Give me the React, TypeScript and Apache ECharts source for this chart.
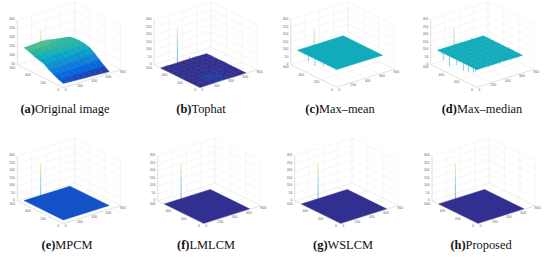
import React, { useEffect, useRef } from "react";
import * as echarts from "echarts";

// ---- data -----------------------------------------------------------------
const panelLetters = ["(a)", "(b)", "(c)", "(d)", "(e)", "(f)", "(g)", "(h)"];
const panelNames = ["Original image", "Tophat", "Max\u2013mean", "Max\u2013median", "MPCM", "LMLCM", "WSLCM", "Proposed"];
const xTicks = [0, 200, 400, 600, 800];
const yTicks = [0, 200, 400, 600];
const zTicksFull = [0, 50, 100, 150, 200, 250, 300];
const zTicksOriginal = [50, 100, 150, 200, 250, 300];

const fineX = [0, 80, 160, 240, 320, 400, 480, 560, 640];
const fineY = [0, 64, 128, 192, 256, 320, 384, 448, 512];
const flatX = [0, 640];
const flatY = [0, 512];

const surfaceOriginal = [
  [74, 72, 70, 68, 66, 65, 63, 61, 59],
  [84, 82, 81, 79, 78, 78, 78, 78, 78],
  [97, 96, 95, 95, 94, 95, 96, 98, 99],
  [112, 111, 110, 110, 111, 113, 116, 119, 122],
  [130, 128, 126, 126, 127, 130, 134, 138, 140],
  [137, 138, 139, 140, 141, 143, 145, 147, 147],
  [146, 147, 149, 151, 152, 152, 152, 151, 150],
  [157, 158, 160, 161, 160, 157, 154, 151, 148],
  [164, 166, 168, 170, 168, 160, 155, 150, 144],
];
const surfaceTophat = [
  [2, 2, 3, 3, 4, 3, 2, 2, 3],
  [2, 3, 12, 18, 15, 4, 3, 3, 2],
  [2, 3, 6, 12, 9, 3, 4, 2, 3],
  [2, 2, 3, 4, 3, 3, 5, 4, 2],
  [2, 3, 2, 3, 3, 4, 3, 3, 4],
  [3, 2, 3, 2, 3, 4, 2, 3, 3],
  [2, 3, 2, 3, 4, 2, 3, 5, 2],
  [2, 2, 3, 3, 2, 3, 4, 3, 3],
  [2, 3, 2, 2, 3, 2, 3, 2, 2],
];
const surfaceMaxMean = [[118, 118], [118, 118]];
const surfaceMaxMedian = [
  [117, 118, 118, 117, 119, 118, 118, 117, 118],
  [118, 119, 118, 119, 118, 118, 119, 118, 117],
  [118, 119, 119, 118, 119, 118, 118, 119, 118],
  [118, 118, 118, 119, 118, 119, 118, 118, 118],
  [117, 119, 118, 119, 119, 118, 119, 118, 118],
  [118, 118, 119, 118, 118, 119, 118, 119, 118],
  [118, 119, 118, 119, 118, 118, 119, 118, 118],
  [118, 118, 119, 118, 119, 119, 118, 119, 118],
  [118, 118, 118, 119, 118, 118, 118, 118, 118],
];
const surfaceMpcm = [[25, 25], [25, 25]];
const surfaceLmlcm = [[3, 3], [3, 3]];
const surfaceWslcm = [[3, 3], [3, 3]];
const surfaceProposed = [[3, 3], [3, 3]];

// [x, y, zFrom, zTo]
const spikesOriginal = [[225, 505, 165, 240]];
const spikesTophat = [[225, 505, 0, 240], [400, 512, 3, 16], [520, 400, 3, 14], [610, 180, 3, 12]];
const spikesMaxMean = [
  [225, 505, 118, 232],
  [0, 370, 118, 82],
  [0, 283, 118, 73],
  [0, 174, 118, 98],
  [0, 13, 118, 111],
];
const spikesMaxMedian = [
  [225, 505, 118, 237],
  [0, 435, 118, 73],
  [0, 356, 118, 49],
  [0, 260, 118, 82],
  [0, 174, 118, 67],
  [0, 108, 118, 78],
  [0, 43, 118, 87],
  [0, 13, 118, 100],
  [120, 512, 118, 128],
  [330, 512, 118, 127],
  [480, 512, 118, 130],
  [640, 420, 118, 128],
  [640, 300, 118, 127],
  [640, 170, 118, 129],
  [640, 60, 118, 126],
  [160, 0, 118, 108],
  [320, 0, 118, 106],
  [480, 0, 118, 109],
];
const spikesMpcm = [[225, 505, 25, 240]];
const spikesLmlcm = [[225, 505, 3, 240]];
const spikesWslcm = [[225, 505, 3, 240]];
const spikesProposed = [[225, 505, 3, 240]];

// ---- layout and styles ----------------------------------------------------
const panels = [
  { front: [63.3, 87.7], surf: surfaceOriginal, xs: fineX, ys: fineY, spikes: spikesOriginal, zTicks: zTicksOriginal, clim: [60, 232], capX: 65, capY: 109 },
  { front: [200, 87.7], surf: surfaceTophat, xs: fineX, ys: fineY, spikes: spikesTophat, zTicks: zTicksFull, clim: [0, 255], capX: 201, capY: 109 },
  { front: [336.7, 87.3], surf: surfaceMaxMean, xs: flatX, ys: flatY, spikes: spikesMaxMean, zTicks: zTicksFull, clim: [0, 255], capX: 340, capY: 109 },
  { front: [476.7, 87.3], surf: surfaceMaxMedian, xs: fineX, ys: fineY, spikes: spikesMaxMedian, zTicks: zTicksFull, clim: [0, 255], capX: 482, capY: 109 },
  { front: [63.3, 223.7], surf: surfaceMpcm, xs: flatX, ys: flatY, spikes: spikesMpcm, zTicks: zTicksFull, clim: [0, 255], capX: 67, capY: 245 },
  { front: [203.7, 223.7], surf: surfaceLmlcm, xs: flatX, ys: flatY, spikes: spikesLmlcm, zTicks: zTicksFull, clim: [0, 255], capX: 206, capY: 245 },
  { front: [340.7, 223.7], surf: surfaceWslcm, xs: flatX, ys: flatY, spikes: spikesWslcm, zTicks: zTicksFull, clim: [0, 255], capX: 343, capY: 245 },
  { front: [478, 223.7], surf: surfaceProposed, xs: flatX, ys: flatY, spikes: spikesProposed, zTicks: zTicksFull, clim: [0, 255], capX: 481, capY: 245 },
];
const VEC_X = [57.3, -18];
const VEC_Y = [-46, -22.7];
const Z_HEIGHT = 45;
const X_MAX = 800;
const Y_MAX = 600;
const Z_MAX = 300;
const GRID = "#ececec";
const AXIS = "#cfcfcf";
const LABEL = "#666";
const LABEL_FONT = 3.4;

const parulaStops: number[][] = [
  [0, 53, 42, 135],
  [0.14, 3, 99, 225],
  [0.29, 20, 132, 212],
  [0.43, 6, 167, 198],
  [0.57, 56, 185, 149],
  [0.71, 165, 191, 107],
  [0.86, 242, 186, 56],
  [1, 249, 251, 14],
];
function parula(t: number): string {
  const v = Math.max(0, Math.min(1, t));
  for (let i = 1; i < parulaStops.length; i++) {
    const a = parulaStops[i - 1];
    const b = parulaStops[i];
    if (v <= b[0]) {
      const k = (v - a[0]) / (b[0] - a[0]);
      return `rgb(${[1, 2, 3].map((j) => Math.round(a[j] + (b[j] - a[j]) * k)).join(",")})`;
    }
  }
  return "#f9fb0e";
}

type Spec =
  | { t: "poly"; pts: number[][]; fill: string }
  | { t: "line"; a: number[]; b: number[]; stroke: string; w: number; op?: number }
  | { t: "text"; p: number[]; text: string; align: string };

function buildPanel(p: (typeof panels)[number]): Spec[] {
  const zMin = p.zTicks[0];
  const proj = (x: number, y: number, z: number) => [
    p.front[0] + (x / X_MAX) * VEC_X[0] + (y / Y_MAX) * VEC_Y[0],
    p.front[1] + (x / X_MAX) * VEC_X[1] + (y / Y_MAX) * VEC_Y[1] - ((z - zMin) / (Z_MAX - zMin)) * Z_HEIGHT,
  ];
  const out: Spec[] = [];
  const grid = (a: number[], b: number[], stroke = GRID, w = 0.5) => out.push({ t: "line", a, b, stroke, w });
  // floor and the two back walls
  xTicks.forEach((x) => {
    grid(proj(x, 0, zMin), proj(x, Y_MAX, zMin));
    grid(proj(x, Y_MAX, zMin), proj(x, Y_MAX, Z_MAX));
  });
  yTicks.forEach((y) => {
    grid(proj(0, y, zMin), proj(X_MAX, y, zMin));
    grid(proj(X_MAX, y, zMin), proj(X_MAX, y, Z_MAX));
  });
  p.zTicks.forEach((z) => {
    grid(proj(0, Y_MAX, z), proj(X_MAX, Y_MAX, z));
    grid(proj(X_MAX, Y_MAX, z), proj(X_MAX, 0, z));
  });
  grid(proj(0, 0, zMin), proj(X_MAX, 0, zMin), AXIS);
  grid(proj(0, 0, zMin), proj(0, Y_MAX, zMin), AXIS);
  grid(proj(0, Y_MAX, zMin), proj(0, Y_MAX, Z_MAX), AXIS);
  // tick labels
  xTicks.forEach((x) => {
    const q = proj(x, 0, zMin);
    out.push({ t: "text", p: [q[0] + 2.4, q[1] + 2.4], text: String(x), align: "center" });
  });
  yTicks.forEach((y) => {
    const q = proj(0, y, zMin);
    out.push({ t: "text", p: [q[0] - 4.8, q[1] + 2.6], text: String(y), align: "center" });
  });
  p.zTicks.forEach((z) => {
    const q = proj(0, Y_MAX, z);
    out.push({ t: "text", p: [q[0] - 2.4, q[1] - 0.6], text: String(z), align: "right" });
  });
  const color = (z: number) => parula((z - p.clim[0]) / (p.clim[1] - p.clim[0]));
  // spikes go in first so that the surface hides what lies behind it
  p.spikes.forEach(([x, y, from, to]) => {
    const step = Math.sign(to - from) * 15;
    for (let z = from; step > 0 ? z < to : z > to; z += step) {
      const end = step > 0 ? Math.min(z + step, to) : Math.max(z + step, to);
      out.push({ t: "line", a: proj(x, y, z), b: proj(x, y, end), stroke: color((z + end) / 2), w: 0.9, op: 0.55 });
    }
  });
  // surface cells, far to near
  for (let r = p.ys.length - 2; r >= 0; r--) {
    for (let c = p.xs.length - 2; c >= 0; c--) {
      const z = [p.surf[r][c], p.surf[r][c + 1], p.surf[r + 1][c + 1], p.surf[r + 1][c]];
      out.push({
        t: "poly",
        pts: [
          proj(p.xs[c], p.ys[r], z[0]),
          proj(p.xs[c + 1], p.ys[r], z[1]),
          proj(p.xs[c + 1], p.ys[r + 1], z[2]),
          proj(p.xs[c], p.ys[r + 1], z[3]),
        ],
        fill: color((z[0] + z[1] + z[2] + z[3]) / 4),
      });
    }
  }
  return out;
}

function drawSpec(spec: Spec, api: any) {
  if (spec.t === "poly") {
    return {
      type: "polygon",
      shape: { points: spec.pts.map((q) => api.coord(q)) },
      style: { fill: spec.fill, stroke: spec.fill, lineWidth: 0.5 },
    };
  }
  if (spec.t === "line") {
    const a = api.coord(spec.a);
    const b = api.coord(spec.b);
    return {
      type: "line",
      shape: { x1: a[0], y1: a[1], x2: b[0], y2: b[1] },
      style: { stroke: spec.stroke, lineWidth: spec.w, opacity: spec.op ?? 1 },
    };
  }
  const q = api.coord(spec.p);
  return {
    type: "text",
    style: {
      x: q[0],
      y: q[1],
      text: spec.text,
      fontSize: LABEL_FONT,
      fontFamily: "Liberation Sans",
      fill: LABEL,
      align: spec.align,
      verticalAlign: "middle",
    },
  };
}

export default function App() {
  const ref = useRef<HTMLDivElement>(null);
  useEffect(() => {
    document.body.style.margin = "0";
    const chart = echarts.init(ref.current!, undefined, { renderer: "svg" });
    const series = panels.map((p) => {
      const specs = buildPanel(p);
      return {
        type: "custom",
        coordinateSystem: "cartesian2d",
        clip: false,
        silent: true,
        encode: { x: 0, y: 0 },
        data: specs.map((_, i) => [i]),
        renderItem: (_: any, api: any) => drawSpec(specs[api.value(0)], api),
      };
    });
    chart.setOption({
      animation: false,
      backgroundColor: "#fff",
      grid: { left: 0, right: 0, top: 0, bottom: 0 },
      xAxis: { type: "value", min: 0, max: 550, show: false },
      yAxis: { type: "value", min: 0, max: 257, inverse: true, show: false },
      series,
      graphic: panels.map((p, i) => ({
        type: "text",
        x: p.capX,
        y: p.capY,
        style: {
          text: `{b|${panelLetters[i]}}{n|${panelNames[i]}}`,
          align: "center",
          verticalAlign: "middle",
          rich: {
            b: { fontFamily: "Liberation Serif", fontWeight: "bold", fontSize: 12.4, fill: "#111" },
            n: { fontFamily: "Liberation Serif", fontSize: 12.4, fill: "#111" },
          },
        },
      })),
    });
    return () => chart.dispose();
  }, []);
  return <div ref={ref} style={{ position: "absolute", left: 0, top: 0, width: 550, height: 257 }} />;
}
